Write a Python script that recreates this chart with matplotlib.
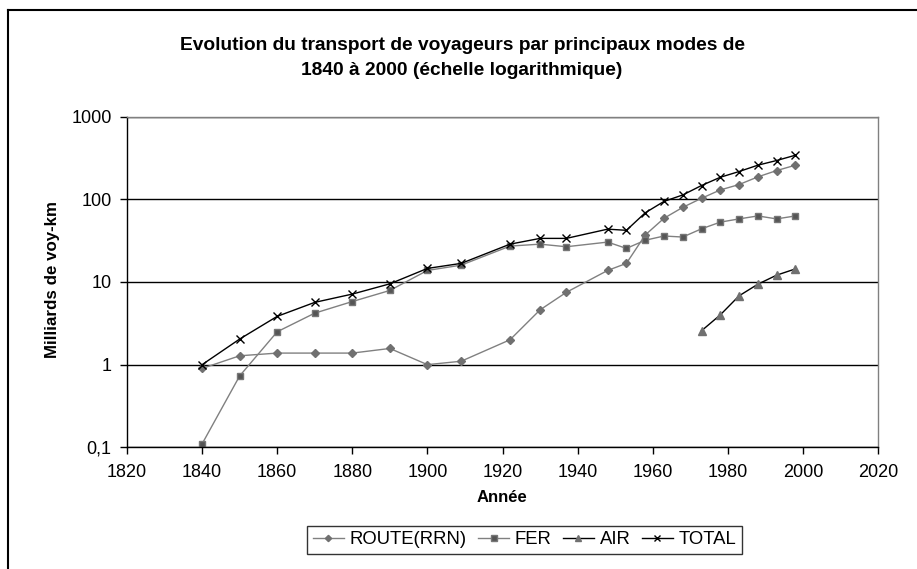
import matplotlib.pyplot as plt
from matplotlib.lines import Line2D
from matplotlib.ticker import FixedLocator, FixedFormatter, NullLocator

plt.rcParams['font.family'] = ['Liberation Sans', 'DejaVu Sans']

# Data (milliards de voy-km)
years = [1840, 1850, 1860, 1870, 1880, 1890, 1900, 1909, 1922, 1930, 1937,
         1948, 1953, 1958, 1963, 1968, 1973, 1978, 1983, 1988, 1993, 1998]
route = [0.9, 1.28, 1.38, 1.38, 1.38, 1.57, 1.0, 1.1, 2.0, 4.6, 7.5,
         13.8, 16.8, 37, 59, 80, 103, 130, 151, 187, 223, 259]
fer = [0.11, 0.73, 2.5, 4.2, 5.8, 7.9, 13.8, 16.0, 27.2, 28.7, 26.7,
       30.4, 25.5, 32, 36, 35, 44, 53, 58, 63, 58, 63]
air_years = [1973, 1978, 1983, 1988, 1993, 1998]
air = [2.57, 4.0, 6.8, 9.4, 12.1, 14.4]
total = [1.0, 2.04, 3.84, 5.67, 7.14, 9.5, 14.6, 16.8, 28.7, 33.7, 33.7,
         43.6, 42.2, 68.7, 94.4, 113, 147, 185, 217, 259, 295, 342]

y_ticks = [0.1, 1, 10, 100, 1000]
y_labels = ["0,1", "1", "10", "100", "1000"]
x_ticks = list(range(1820, 2021, 20))

fig = plt.figure(figsize=(9.17, 5.69), dpi=100)
ax = fig.add_axes([127 / 917, 1 - 447.3 / 569, 751 / 917, 330.6 / 569])

ax.plot(years, route, color="#808080", lw=1.0, marker="D", ms=4,
        mfc="#707070", mec="#707070", label="ROUTE(RRN)")
ax.plot(years, fer, color="#808080", lw=1.0, marker="s", ms=5,
        mfc="#555555", mec="#777777", label="FER")
ax.plot(air_years, air, color="#000000", lw=1.0, marker="^", ms=6,
        mfc="#707070", mec="#707070", label="AIR")
ax.plot(years, total, color="#000000", lw=1.0, marker="x", ms=6,
        mew=1.0, label="TOTAL")

ax.set_yscale("log")
ax.set_ylim(0.1, 1000)
ax.set_xlim(1820, 2020)
ax.yaxis.set_major_locator(FixedLocator(y_ticks))
ax.yaxis.set_major_formatter(FixedFormatter(y_labels))
ax.yaxis.set_minor_locator(NullLocator())
ax.set_xticks(x_ticks)

ax.grid(axis="y", color="black", lw=1.0)
ax.set_axisbelow(True)
for side in ["left", "bottom"]:
    ax.spines[side].set_color("black")
    ax.spines[side].set_linewidth(1.0)
for side in ["top", "right"]:
    ax.spines[side].set_color("#808080")
    ax.spines[side].set_linewidth(1.0)
ax.tick_params(axis="both", direction="out", length=5, width=1.0,
               labelsize=13, color="black")
ax.tick_params(axis="x", pad=7)
ax.tick_params(axis="y", pad=6)

fig.text(0.504, 0.898,
         "Evolution du transport de voyageurs par principaux modes de\n"
         "1840 à 2000 (échelle logarithmique)",
         ha="center", va="center", fontsize=13.8, fontweight="bold",
         linespacing=1.55)
fig.text(502 / 917, 1 - 497 / 569, "Année", ha="center", va="center",
         fontsize=12, fontweight="bold")
fig.text(53 / 917, 1 - 280 / 569, "Milliards de voy-km", ha="center",
         va="center", rotation=90, fontsize=12.2, fontweight="bold")

leg = fig.legend(loc="center", bbox_to_anchor=(524.5 / 917, 1 - 540 / 569),
                 ncol=4, fontsize=13.3, frameon=True, fancybox=False,
                 edgecolor="black", handlelength=1.7, handletextpad=0.3,
                 columnspacing=0.6, borderpad=0.3, markerscale=0.8)
leg.get_frame().set_linewidth(1.0)

# chart frame (top and left edges only, as in the cropped source)
fig.add_artist(Line2D([8 / 917, 8 / 917], [0, 1 - 10 / 569], color="black", lw=1.5))
fig.add_artist(Line2D([8 / 917, 1], [1 - 10 / 569, 1 - 10 / 569], color="black", lw=1.5))

fig.savefig("out.png", dpi=100)
